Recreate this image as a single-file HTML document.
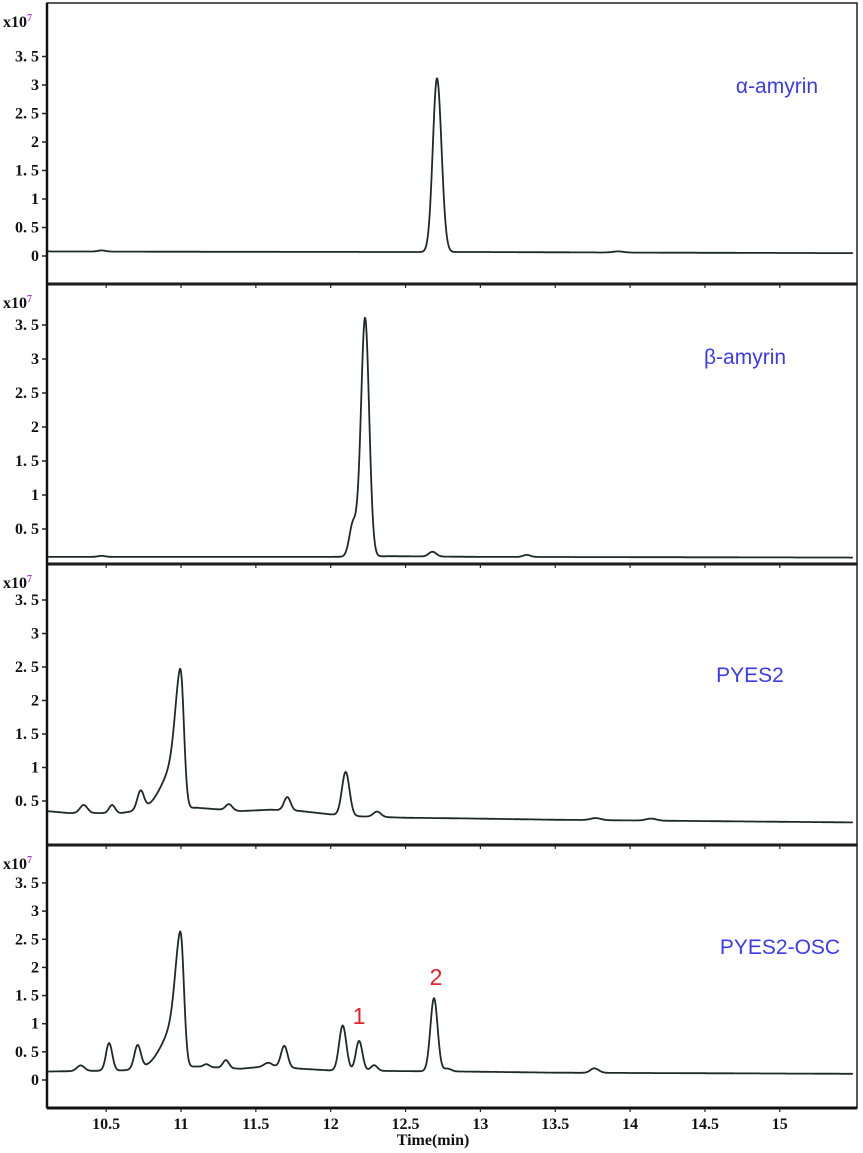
<!DOCTYPE html>
<html><head><meta charset="utf-8">
<style>
html,body{margin:0;padding:0;background:#fff;}
svg{display:block;}
.tick{font-family:"Liberation Serif",serif;font-size:16px;font-weight:bold;fill:#111;}
.lbl{font-family:"Liberation Sans",sans-serif;font-size:21px;fill:#3a3af0;}
.num{font-family:"Liberation Sans",sans-serif;font-size:23px;fill:#e8202a;}
</style></head>
<body>
<svg id="chart" width="863" height="1153" viewBox="0 0 863 1153" xmlns="http://www.w3.org/2000/svg"></svg>
<script>
// ---- data ----
const xTicks = [10.5, 11, 11.5, 12, 12.5, 13, 13.5, 14, 14.5, 15];
const xTickLabels = ["10.5","11","11.5","12","12.5","13","13.5","14","14.5","15"];
const yTicks = [0, 0.5, 1, 1.5, 2, 2.5, 3, 3.5];
const yTickLabels = ["0","0. 5","1","1. 5","2","2. 5","3","3. 5"];
const panelNames = ["α-amyrin", "β-amyrin", "PYES2", "PYES2-OSC"];
// baselines: [time, intensity x1e7]
const baseAlpha = [[10.1,0.08],[11,0.075],[12.5,0.07],[13,0.07],[14,0.06],[15.5,0.05]];
const baseBeta = [[10.1,0.09],[12,0.09],[12.4,0.1],[13,0.09],[15.5,0.08]];
const basePyes = [[10.1,0.35],[10.25,0.32],[10.6,0.32],[10.7,0.35],[11.1,0.4],[11.4,0.35],[11.6,0.37],[11.8,0.35],[12.0,0.3],[12.2,0.27],[12.5,0.25],[12.9,0.24],[13.5,0.22],[14.5,0.2],[15.5,0.18]];
const baseOsc = [[10.1,0.15],[10.6,0.17],[11.1,0.24],[11.4,0.2],[11.6,0.25],[11.8,0.2],[12.0,0.17],[12.4,0.16],[12.9,0.15],[13.5,0.13],[14.5,0.12],[15.5,0.11]];
// peaks: [center, height above baseline, sigmaLeft, sigmaRight]
const peaksAlpha = [[10.47,0.02,0.025,0.025],[12.71,3.05,0.028,0.03],[13.92,0.02,0.035,0.035]];
const peaksBeta = [[10.47,0.015,0.025,0.025],[12.15,0.5,0.025,0.03],[12.23,3.5,0.027,0.027],[12.68,0.07,0.025,0.025],[13.31,0.03,0.025,0.025]];
const peaksPyes = [[10.35,0.12,0.025,0.025],[10.54,0.12,0.02,0.02],[10.73,0.28,0.022,0.022],[11.0,1.37,0.035,0.022],[10.99,0.75,0.1,0.022],[11.32,0.09,0.022,0.022],[11.71,0.2,0.022,0.022],[12.1,0.65,0.025,0.025],[12.31,0.08,0.025,0.025],[13.77,0.03,0.035,0.035],[14.14,0.03,0.035,0.035]];
const peaksOsc = [[10.33,0.1,0.025,0.025],[10.52,0.49,0.021,0.021],[10.71,0.42,0.022,0.022],[11.0,1.6,0.035,0.022],[10.99,0.85,0.1,0.022],[11.17,0.05,0.02,0.02],[11.3,0.14,0.02,0.02],[11.58,0.06,0.025,0.025],[11.69,0.38,0.022,0.022],[12.08,0.8,0.024,0.024],[12.19,0.53,0.022,0.022],[12.29,0.1,0.022,0.022],[12.69,1.3,0.024,0.024],[12.78,0.05,0.025,0.025],[13.76,0.08,0.025,0.03]];
</script>
<script>
const NS="http://www.w3.org/2000/svg";
const svg=document.getElementById('chart');
function mk(tag,attrs,parent){const e=document.createElementNS(NS,tag);for(const k in attrs)e.setAttribute(k,attrs[k]);(parent||svg).appendChild(e);return e;}
const X0=47,X1=857;
function xs(t){return 181+(t-11)*149.7;}
const panels=[
 {top:3,bot:284,zero:256,unit:57,base:baseAlpha,peaks:peaksAlpha,lx:777,ly:93,ticks:[0,0.5,1,1.5,2,2.5,3,3.5]},
 {top:284,bot:564,zero:563,unit:68,base:baseBeta,peaks:peaksBeta,lx:745,ly:364,ticks:[0.5,1,1.5,2,2.5,3,3.5]},
 {top:564,bot:845,zero:834.5,unit:67,base:basePyes,peaks:peaksPyes,lx:750,ly:682,ticks:[0.5,1,1.5,2,2.5,3,3.5]},
 {top:845,bot:1108,zero:1080,unit:56.3,base:baseOsc,peaks:peaksOsc,lx:780,ly:954,ticks:[0,0.5,1,1.5,2,2.5,3,3.5]}
];
function interp(b,t){if(t<=b[0][0])return b[0][1];for(let i=1;i<b.length;i++){if(t<=b[i][0]){const f=(t-b[i-1][0])/(b[i][0]-b[i-1][0]);return b[i-1][1]+f*(b[i][1]-b[i-1][1]);}}return b[b.length-1][1];}
function signal(p,t){let v=interp(p.base,t);for(const k of p.peaks){const s=t<k[0]?k[2]:k[3];v+=k[1]*Math.exp(-((t-k[0])**2)/(2*s*s));}return v;}
panels.forEach((p,i)=>{
 const g=mk('g',{});
 
 
 const frame=mk('rect',{x:X0,y:p.top,width:X1-X0,height:p.bot-p.top,fill:'none',stroke:'#222','stroke-width':1.5},g);
 
 
 const bl=mk('line',{x1:X0,x2:X1,y1:p.bot,y2:p.bot,stroke:'#111','stroke-width':3},g);
 
 
 const ll=mk('line',{x1:X0,x2:X0,y1:p.top,y2:p.bot,stroke:'#111','stroke-width':2.5},g);
 
 
 const ys=v=>p.zero-v*p.unit;
 p.ticks.forEach(v=>{
  const idx=yTicks.indexOf(v);
  const tk=mk('line',{x1:X0-5,x2:X0,y1:ys(v),y2:ys(v),stroke:'#222','stroke-width':1.5},g);
  
  
  const tl=mk('text',{x:X0-8,y:ys(v)+5,'text-anchor':'end',class:'tick'},g);
  tl.textContent=yTickLabels[idx];
  
  
 });
 const ex=mk('text',{x:3,y:p.top+24,class:'tick'},g);
 ex.innerHTML='x10<tspan dy="-6" font-size="10" fill="#a040c0">7</tspan>';
 
 
 xTicks.forEach(t=>{
  const tk=mk('line',{x1:xs(t),x2:xs(t),y1:p.bot,y2:p.bot+4,stroke:'#222','stroke-width':1.2},g);
  
  
 });
 let d='';
 for(let t=10.1;t<=15.49;t+=0.004){const x=xs(t);if(x<X0+1||x>X1-1)continue;d+=(d?'L':'M')+x.toFixed(1)+','+ys(signal(p,t)).toFixed(1);}
 const path=mk('path',{d:d,fill:'none',stroke:'#1e2a28','stroke-width':1.8},g);
 
 
 const lb=mk('text',{x:p.lx,y:p.ly,'text-anchor':'middle',class:'lbl'},g);
 lb.textContent=panelNames[i];
 
 
});
xTicks.forEach((t,i)=>{
 const tl=mk('text',{x:xs(t),y:1129,'text-anchor':'middle',class:'tick'});
 tl.textContent=xTickLabels[i];
 
 
});
const xt=mk('text',{x:433,y:1145,'text-anchor':'middle',class:'tick','font-weight':'normal'});
xt.textContent='Time(min)';


const n1=mk('text',{x:359,y:1024,'text-anchor':'middle',class:'num'});
n1.textContent='1';


const n2=mk('text',{x:436,y:985,'text-anchor':'middle',class:'num'});
n2.textContent='2';


</script>
</body></html>
